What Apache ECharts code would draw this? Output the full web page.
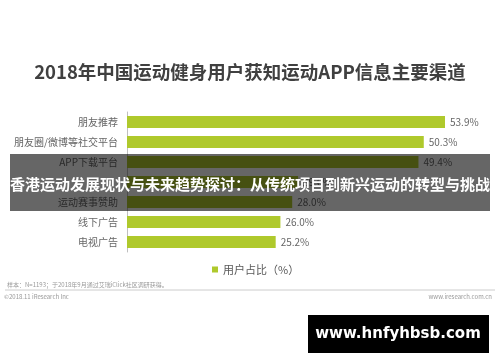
<!DOCTYPE html>
<html>
<head>
<meta charset="utf-8">
<script src="https://cdn.jsdelivr.net/npm/echarts@6/dist/echarts.min.js"></script>
<style>
html,body{margin:0;padding:0;background:#fff;}
#chart{width:500px;height:362px;}
</style>
</head>
<body>
<div id="chart"></div>
<script>
const titleText = '2018年中国运动健身用户获知运动APP信息主要渠道';
const categories = ['朋友推荐', '朋友圈/微博等社交平台', 'APP下载平台', '', '运动赛事赞助', '线下广告', '电视广告'];
const values = [53.9, 50.3, 49.4, 29.0, 28.0, 26.0, 25.2];
const seriesName = '用户占比（%）';
const noteText = '样本：N=1193；于2018年9月通过艾瑞iClick社区调研获得。';
const copyrightText = '©2018.11 iResearch Inc';
const siteText = 'www.iresearch.com.cn';
const overlayText = '香港运动发展现状与未来趋势探讨：从传统项目到新兴运动的转型与挑战';
const watermarkText = 'www.hnfyhbsb.com';

const FONT = '"Noto Sans CJK SC", "Noto Sans", sans-serif';
const chart = echarts.init(document.getElementById('chart'), null, {renderer: 'canvas'});
chart.setOption({
  animation: false,
  backgroundColor: '#ffffff',
  textStyle: {fontFamily: FONT},
  title: {
    text: titleText,
    left: 'center',
    top: 58,
    textStyle: {fontSize: 18.5, fontWeight: 'bold', color: '#404040', fontFamily: FONT}
  },
  legend: {
    data: [seriesName],
    left: 207,
    top: 259,
    itemWidth: 6,
    itemHeight: 6,
    itemGap: 4,
    icon: 'rect',
    textStyle: {fontSize: 11, color: '#595959', fontFamily: FONT}
  },
  grid: {left: 127, top: 112, width: 354, height: 140, containLabel: false},
  xAxis: {
    type: 'value', min: 0, max: 60, show: false
  },
  yAxis: {
    type: 'category',
    data: categories,
    inverse: true,
    axisLine: {show: true, lineStyle: {color: '#bfbfbf', width: 1}},
    axisTick: {show: false},
    axisLabel: {fontSize: 10, color: '#666666', margin: 9, fontFamily: FONT}
  },
  series: [{
    name: seriesName,
    type: 'bar',
    data: values,
    barWidth: 12,
    itemStyle: {color: '#afc92c'},
    label: {
      show: true, position: 'right', distance: 5,
      formatter: p => p.value.toFixed(1) + '%',
      fontSize: 10, color: '#666666', fontFamily: FONT
    }
  }],
  graphic: [
    {type: 'line', shape: {x1: 5, y1: 290, x2: 495, y2: 290}, style: {stroke: '#cccccc', lineWidth: 1}},
    {type: 'text', left: 7, top: 282, style: {text: noteText, fontSize: 6, fill: '#999999', fontFamily: FONT}},
    {type: 'text', left: 4, top: 294, style: {text: copyrightText, fontSize: 6, fill: '#999999', fontFamily: FONT}},
    {type: 'text', right: 8, top: 294, style: {text: siteText, fontSize: 6, fill: '#999999', fontFamily: FONT}},
    {type: 'rect', shape: {x: 10, y: 154, width: 480, height: 57}, style: {fill: 'rgba(0,0,0,0.6)'}, z: 100},
    {type: 'text', x: 250, y: 184, z: 101,
      style: {text: overlayText, fontSize: 15, fontWeight: 'bold', fill: '#ffffff', align: 'center', verticalAlign: 'middle', fontFamily: FONT}},
    {type: 'rect', shape: {x: 308, y: 315, width: 181, height: 38}, style: {fill: '#000000'}, z: 100},
    {type: 'text', x: 398, y: 334, z: 101,
      style: {text: watermarkText, fontSize: 15, fontWeight: 'bold', fill: '#ffffff', align: 'center', verticalAlign: 'middle', fontFamily: '"DejaVu Sans", sans-serif'}}
  ]
});
</script>
</body>
</html>
